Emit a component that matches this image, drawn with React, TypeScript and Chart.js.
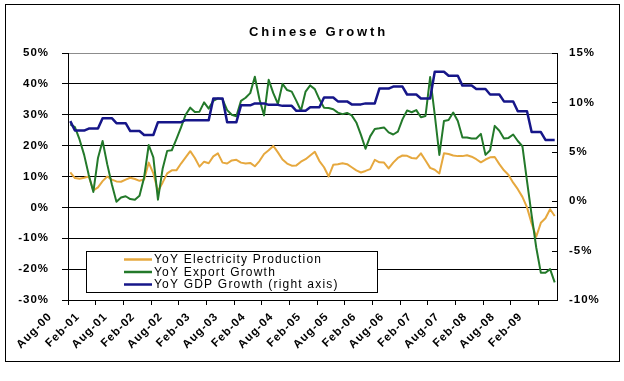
import React, { useEffect, useRef } from 'react';
import { Chart, registerables } from 'chart.js';

Chart.register(...registerables);

// ---------- data ----------
const TITLE = 'Chinese Growth';
const MONTH_NAMES = ['Jan', 'Feb', 'Mar', 'Apr', 'May', 'Jun', 'Jul', 'Aug', 'Sep', 'Oct', 'Nov', 'Dec'];
const FIRST_MONTH = 7; // Aug
const FIRST_YEAR = 2000;
const MONTH_COUNT = 106; // Aug-00 .. May-09
const LABEL_EVERY = 6;

const categories: string[] = [];
for (let k = 0; k < MONTH_COUNT; k++) {
  const m = (FIRST_MONTH + k) % 12;
  const y = FIRST_YEAR + Math.floor((FIRST_MONTH + k) / 12);
  categories.push(`${MONTH_NAMES[m]}-${String(y % 100).padStart(2, '0')}`);
}

const seriesLabels = ['YoY Electricity Production', 'YoY Export Growth', 'YoY GDP Growth (right axis)'];

// YoY electricity production, % (left axis)
const electricity = [
  11.3, 9.5, 9.3, 9.6, 10.0, 5.5, 6.5, 8.5, 10.0, 9.0,
  8.4, 8.3, 9.0, 9.6, 9.2, 8.6, 9.0, 14.5, 11.0, 5.2,
  8.0, 11.0, 12.0, 12.0, 14.2, 16.2, 18.2, 16.0, 13.2, 14.8,
  14.3, 16.5, 17.5, 14.5, 14.2, 15.2, 15.4, 14.5, 14.2, 14.4,
  13.3, 15.0, 17.3, 18.5, 19.9, 17.8, 15.5, 14.2, 13.5, 13.6,
  14.8, 15.6, 16.8, 18.0, 15.0, 13.0, 10.0, 13.8, 14.0, 14.3,
  14.0, 13.0, 12.0, 11.3, 11.8, 12.4, 15.4, 14.6, 14.5, 12.6,
  14.5, 16.0, 16.8, 16.7, 16.0, 15.8, 17.5, 15.2, 12.8, 12.2,
  11.0, 17.5, 17.3, 16.8, 16.6, 16.6, 16.9, 16.4, 15.6, 14.6,
  15.5, 16.2, 16.3, 14.0, 12.0, 10.5, 8.0, 5.9, 3.4, 0.0,
  -5.2, -9.5, -5.0, -3.5, -0.6, -2.8,
];

// YoY export growth, % (left axis)
const exportsGrowth = [
  26.9, 26.0, 22.0, 17.0, 10.5, 5.0, 16.0, 21.5, 14.0, 7.5,
  1.8, 3.2, 3.6, 2.7, 2.5, 3.8, 9.7, 20.2, 16.2, 2.5,
  12.4, 18.3, 18.5, 22.1, 25.9, 30.0, 32.3, 30.9, 31.0, 34.0,
  32.0, 34.5, 35.3, 35.0, 31.5, 30.0, 29.5, 34.5, 35.5, 37.0,
  42.3, 35.0, 29.8, 41.3, 37.0, 33.5, 40.0, 38.0, 37.5, 34.5,
  31.3, 37.5, 39.5, 38.3, 35.0, 32.3, 32.2, 31.8, 30.7, 30.2,
  30.6, 29.8, 27.5, 23.5, 19.0, 23.0, 25.4, 25.6, 25.9, 24.3,
  23.6, 24.5, 28.5, 31.4, 30.8, 31.5, 29.2, 29.6, 42.2, 30.0,
  17.0, 28.0, 28.3, 30.7, 28.0, 22.6, 22.6, 22.3, 22.3, 23.8,
  17.0, 18.5, 26.4, 24.8, 22.3, 22.5, 23.6, 21.5, 19.8, 8.5,
  -2.5, -13.0, -21.2, -21.2, -20.0, -24.3,
];

// YoY GDP growth, % (right axis), quarterly figure held for three months
const gdpGrowth = [
  8.1,
  7.15, 7.15, 7.15, 7.35, 7.35, 7.35, 8.4, 8.4, 8.4,
  7.9, 7.9, 7.9, 7.1, 7.1, 7.1, 6.7, 6.7, 6.7,
  8.0, 8.0, 8.0, 8.0, 8.0, 8.0, 8.2, 8.2, 8.2,
  8.2, 8.2, 8.2, 10.4, 10.4, 10.4, 8.0, 8.0, 8.0,
  9.7, 9.7, 9.7, 9.9, 9.9, 9.9, 9.75, 9.75, 9.75,
  9.65, 9.65, 9.65, 9.15, 9.15, 9.15, 9.5, 9.5, 9.5,
  10.5, 10.5, 10.5, 10.1, 10.1, 10.1, 9.8, 9.8, 9.8,
  9.9, 9.9, 9.9, 11.4, 11.4, 11.4, 11.6, 11.6, 11.6,
  10.8, 10.8, 10.8, 10.4, 10.4, 10.4, 13.1, 13.1, 13.1,
  12.7, 12.7, 12.7, 11.7, 11.7, 11.7, 11.35, 11.35, 11.35,
  10.8, 10.8, 10.8, 10.1, 10.1, 10.1, 9.1, 9.1, 9.1,
  7.0, 7.0, 7.0, 6.2, 6.2, 6.2,
];

const leftAxis = { min: -30, max: 50, step: 10 };
const rightAxis = { min: -10, max: 15, step: 5 };

// ---------- styles ----------
const FONT = '"Liberation Sans", Arial, sans-serif';
const COLORS = ['#E6A83E', '#23792A', '#161689'];

const decorPlugin = {
  id: 'excelDecor',
  beforeUpdate(chart: any) {
    chart.ctx.letterSpacing = '1px';
  },
  beforeDraw(chart: any) {
    chart.ctx.letterSpacing = '1px';
  },
  afterDraw(chart: any) {
    const ctx = chart.ctx;
    const y1 = chart.scales.y1;
    ctx.save();
    ctx.strokeStyle = '#000';
    ctx.lineWidth = 1;

    // inside tick marks on right axis
    y1.ticks.forEach((t: any) => {
      const py = Math.round(y1.getPixelForValue(t.value)) + 0.5;
      ctx.beginPath();
      ctx.moveTo(y1.left - 5, py);
      ctx.lineTo(y1.left + 0.5, py);
      ctx.stroke();
    });

    // legend box
    ctx.fillStyle = '#fff';
    ctx.fillRect(86, 251, 291, 41);
    ctx.strokeStyle = '#000';
    ctx.strokeRect(86.5, 251.5, 291, 41);
    const rows = [259.5, 272, 284.5];
    ctx.font = `12px ${FONT}`;
    ctx.letterSpacing = '1.2px';
    ctx.textAlign = 'left';
    ctx.textBaseline = 'middle';
    chart.data.datasets.forEach((ds: any, i: number) => {
      const y = rows[i];
      ctx.strokeStyle = ds.borderColor;
      ctx.lineWidth = 2.5;
      ctx.beginPath();
      ctx.moveTo(124, y);
      ctx.lineTo(152, y);
      ctx.stroke();
      ctx.fillStyle = '#000';
      ctx.fillText(ds.label, 154, y + 0.5);
    });

    // title
    ctx.font = `bold 13px ${FONT}`;
    ctx.letterSpacing = '2.8px';
    ctx.fillStyle = '#000';
    ctx.fillText(TITLE, 249, 32);

    // outer frame
    ctx.letterSpacing = '0px';
    ctx.strokeStyle = '#000';
    ctx.lineWidth = 1;
    ctx.strokeRect(5.5, 4.5, 614, 357);
    ctx.restore();
  },
};

export default function App() {
  const ref = useRef<HTMLCanvasElement>(null);

  useEffect(() => {
    if (!ref.current) return;
    const tickFont = { family: FONT, size: 11.5, weight: 'bold' as const };
    const chart = new Chart(ref.current, {
      type: 'line',
      data: {
        labels: categories,
        datasets: [
          {
            label: seriesLabels[0],
            data: electricity,
            borderColor: COLORS[0],
            backgroundColor: COLORS[0],
            borderWidth: 2,
            pointRadius: 0,
            tension: 0,
            yAxisID: 'y',
            order: 3,
            borderJoinStyle: 'round',
          },
          {
            label: seriesLabels[1],
            data: exportsGrowth,
            borderColor: COLORS[1],
            backgroundColor: COLORS[1],
            borderWidth: 2,
            pointRadius: 0,
            tension: 0,
            yAxisID: 'y',
            order: 2,
            borderJoinStyle: 'round',
          },
          {
            label: seriesLabels[2],
            data: gdpGrowth,
            borderColor: COLORS[2],
            backgroundColor: COLORS[2],
            borderWidth: 2.5,
            pointRadius: 0,
            tension: 0,
            yAxisID: 'y1',
            order: 1,
            borderJoinStyle: 'round',
          },
        ],
      },
      options: {
        responsive: false,
        maintainAspectRatio: false,
        animation: false,
        devicePixelRatio: 1,
        layout: { padding: { top: 53, left: 0, right: 0, bottom: 0 } },
        plugins: {
          legend: { display: false },
          title: { display: false },
          tooltip: { enabled: false },
        },
        scales: {
          x: {
            type: 'category',
            offset: true,
            grid: {
              display: true,
              offset: true,
              drawOnChartArea: false,
              drawTicks: true,
              tickLength: 5,
              color: 'rgba(0,0,0,0)',
              tickColor: (c: any) => (typeof c.index === 'number' && c.index % LABEL_EVERY === 0 ? '#000' : 'rgba(0,0,0,0)'),
            },
            border: { display: true, color: '#000', width: 1 },
            ticks: {
              autoSkip: false,
              maxRotation: 45,
              minRotation: 45,
              padding: 5,
              labelOffset: -20,
              color: '#000',
              font: tickFont,
              callback: (_v: any, i: number) => (i % LABEL_EVERY === 0 ? categories[i] : ''),
            },
            afterFit: (s: any) => {
              s.height = 81;
            },
          },
          y: {
            position: 'left',
            min: leftAxis.min,
            max: leftAxis.max,
            ticks: {
              stepSize: leftAxis.step,
              padding: 13,
              color: '#000',
              font: tickFont,
              callback: (v: any) => `${v}%`,
            },
            grid: {
              color: (c: any) => (c.tick && c.tick.value === leftAxis.max ? '#8c8c8c' : '#000'),
              tickColor: '#000',
              tickLength: 6,
              lineWidth: 1,
            },
            border: { display: true, color: '#000', width: 1 },
            afterFit: (s: any) => {
              s.width = 68;
            },
          },
          y1: {
            position: 'right',
            min: rightAxis.min,
            max: rightAxis.max,
            ticks: {
              stepSize: rightAxis.step,
              padding: 12,
              color: '#000',
              font: tickFont,
              callback: (v: any) => `${v}%`,
            },
            grid: { display: true, drawOnChartArea: false, drawTicks: false },
            border: { display: true, color: '#000', width: 1 },
            afterFit: (s: any) => {
              s.width = 67;
            },
          },
        },
      },
      plugins: [decorPlugin],
    } as any);
    return () => chart.destroy();
  }, []);

  return (
    <div style={{ position: 'fixed', left: 0, top: 0, width: 624, height: 381, background: '#fff' }}>
      <canvas ref={ref} width={624} height={381} style={{ display: 'block', width: 624, height: 381 }} />
    </div>
  );
}
